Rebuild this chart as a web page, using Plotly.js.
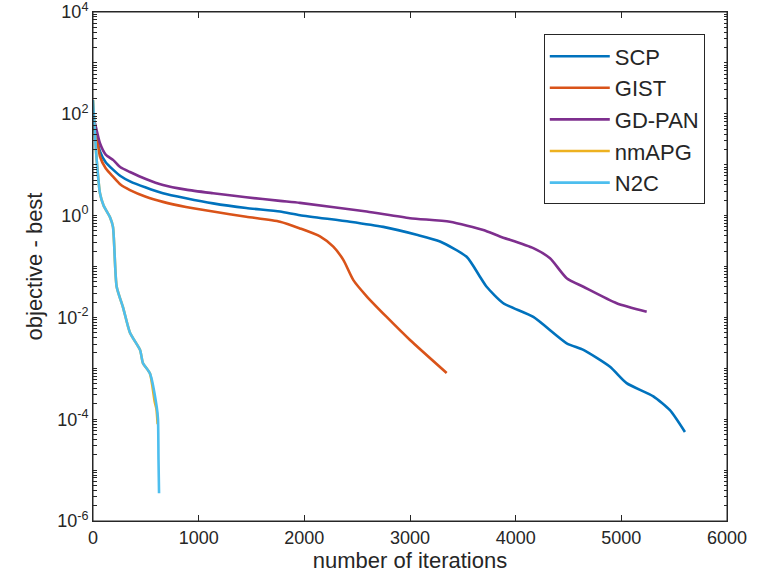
<!DOCTYPE html>
<html><head><meta charset="utf-8">
<script src="https://cdn.plot.ly/plotly-3.0.1.min.js"></script>
<style>body{margin:0;background:#fff}#chart{width:757px;height:584px}</style>
</head><body><div id="chart"></div>
<script>
const seriesNames = ["SCP", "GIST", "GD-PAN", "nmAPG", "N2C"];

const scpX = [0, 5, 19, 66, 120, 192, 260, 350, 500, 662, 880, 1136, 1450, 1770, 1959, 2432, 2747, 3063, 3284, 3536, 3662, 3725, 3883, 4167, 4483, 4641, 4893, 5050, 5303, 5460, 5602];
const scpY = [93, 71, 48, 18.2, 11.2, 7.9, 6.0, 4.7, 3.55, 2.75, 2.19, 1.74, 1.41, 1.2, 1.02, 0.76, 0.60, 0.42, 0.31, 0.155, 0.063, 0.04, 0.019, 0.0102, 0.0031, 0.0023, 0.00107, 0.00051, 0.00028, 0.00015, 0.000056];

const gistX = [0, 5, 35, 66, 120, 192, 260, 350, 500, 662, 880, 1136, 1450, 1770, 1959, 2148, 2274, 2369, 2464, 2590, 2779, 3000, 3347];
const gistY = [89, 60, 35.5, 14.5, 8.5, 5.75, 4.07, 3.16, 2.34, 1.86, 1.48, 1.2, 0.95, 0.76, 0.56, 0.39, 0.245, 0.135, 0.054, 0.026, 0.0102, 0.0036, 0.00081];

const gdpanX = [0, 5, 19, 66, 120, 192, 260, 350, 500, 662, 880, 1136, 1450, 1770, 1959, 2590, 3000, 3378, 3694, 3851, 4167, 4325, 4483, 4641, 4956, 5240];
const gdpanY = [100, 79, 65, 26.3, 15.8, 12.3, 8.9, 7.2, 5.25, 4.0, 3.24, 2.75, 2.29, 1.95, 1.78, 1.2, 0.89, 0.76, 0.52, 0.39, 0.23, 0.145, 0.059, 0.04, 0.019, 0.0129];

const nmapgX = [0, 10, 35, 66, 100, 161, 189, 224, 284, 350, 445, 473, 539, 584, 600, 612];
const nmapgY = [186, 79, 12.3, 2.75, 1.58, 0.93, 0.6, 0.04, 0.0158, 0.005, 0.0023, 0.00126, 0.00079, 0.00022, 0.00016, 0.00008];

const n2cX = [0, 10, 35, 66, 100, 161, 189, 224, 284, 350, 445, 473, 539, 603, 615, 620, 625];
const n2cY = [186, 79, 12.3, 2.75, 1.58, 0.93, 0.6, 0.04, 0.0158, 0.005, 0.0023, 0.00126, 0.00079, 0.000174, 0.0001, 0.000016, 0.0000035];

const yMajorVals = [1e-6, 1e-4, 1e-2, 1, 1e2, 1e4];
const yMajorText = ["10<sup>-6</sup>", "10<sup>-4</sup>", "10<sup>-2</sup>", "10<sup>0</sup>", "10<sup>2</sup>", "10<sup>4</sup>"];
const xTickVals = [0, 1000, 2000, 3000, 4000, 5000, 6000];

// all log ticks: labelled majors plus unlabelled minors (2..9 in each decade)
const yTickVals = [];
const yTickText = [];
for (let e = -6; e <= 4; e++) {
  for (let m = 1; m <= 9; m++) {
    if (e === 4 && m > 1) break;
    const v = m * Math.pow(10, e);
    yTickVals.push(v);
    const k = (m === 1) ? yMajorVals.findIndex(t => Math.abs(Math.log10(t) - e) < 1e-9) : -1;
    yTickText.push(k >= 0 ? yMajorText[k] : "");
  }
}

const colors = ["#0072BD", "#D95319", "#7E2F8E", "#EDB120", "#4DBEEE"];
const xs = [scpX, gistX, gdpanX, nmapgX, n2cX];
const ys = [scpY, gistY, gdpanY, nmapgY, n2cY];

const traces = seriesNames.map((n, i) => ({
  x: xs[i], y: ys[i], name: n, mode: "lines", type: "scatter",
  legendgroup: "g" + i,
  line: {color: colors[i], width: 2.6, shape: "spline", smoothing: 0.6}
}));

const FONT = "Liberation Sans, Arial, sans-serif";
const axisCommon = {
  showline: true, linecolor: "#262626", linewidth: 1, mirror: "ticks",
  ticks: "inside", tickcolor: "#262626", automargin: false,
  ticklabeloverflow: "allow",
  showgrid: false, zeroline: false,
  tickfont: {family: FONT, size: 18, color: "#262626"}
};

const layout = {
  width: 757, height: 584,
  margin: {l: 93, r: 30, t: 12, b: 63},
  paper_bgcolor: "#fff", plot_bgcolor: "#fff",
  showlegend: true,
  legend: {
    x: 0.711, y: 0.956, xanchor: "left", yanchor: "top",
    bordercolor: "#262626", borderwidth: 1, bgcolor: "#fff",
    font: {family: FONT, size: 22, color: "#262626"},
    traceorder: "grouped", tracegroupgap: 0, itemwidth: 60
  },
  xaxis: Object.assign({}, axisCommon, {
    range: [0, 6000], tickvals: xTickVals, ticktext: xTickVals.map(String), ticklen: 6,
    title: {text: "number of iterations", standoff: 6,
      font: {family: FONT, size: 22, color: "#262626"}}
  }),
  yaxis: Object.assign({}, axisCommon, {
    type: "log", range: [-6, 4], tickvals: yTickVals, ticktext: yTickText, ticklen: 3.5,
    title: {text: "objective - best", standoff: 8,
      font: {family: FONT, size: 22, color: "#262626"}}
  }),
  shapes: [{
    type: "rect", xref: "paper", yref: "paper", x0: 0, x1: 1, y0: 0, y1: 1,
    line: {color: "#262626", width: 1}, fillcolor: "rgba(0,0,0,0)", layer: "above"
  }]
};

Plotly.newPlot("chart", traces, layout, {displayModeBar: false, staticPlot: true});
</script>
</body></html>
